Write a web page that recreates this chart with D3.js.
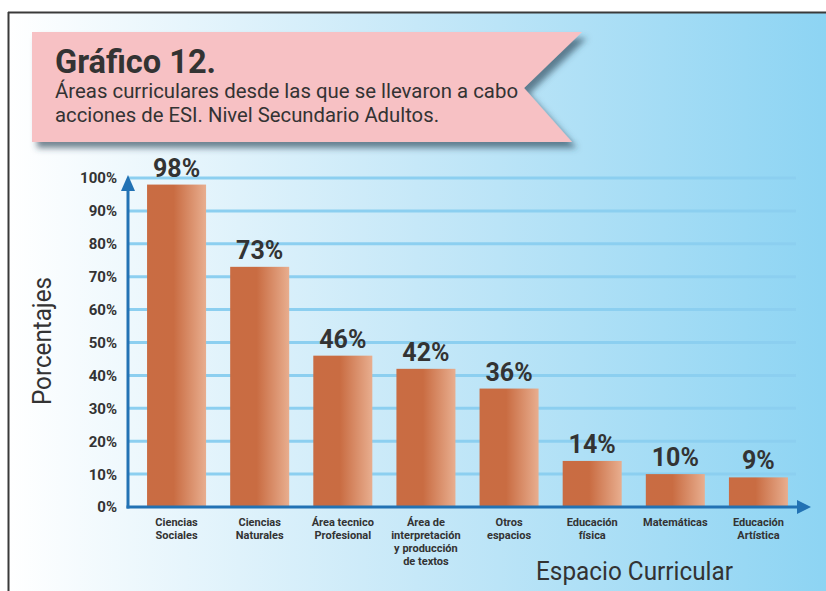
<!DOCTYPE html>
<html>
<head>
<meta charset="utf-8">
<script src="https://cdn.jsdelivr.net/npm/d3@7/dist/d3.min.js"></script>
<style>
  html, body { margin: 0; padding: 0; background: #ffffff; }
  svg { display: block; }
  text { font-family: Roboto, "Noto Sans", sans-serif; }
</style>
</head>
<body>
<script>
// ---- data ----
const categories = [
  "Ciencias\nSociales",
  "Ciencias\nNaturales",
  "Área tecnico\nProfesional",
  "Área de\ninterpretación\ny producción\nde textos",
  "Otros\nespacios",
  "Educación\nfísica",
  "Matemáticas",
  "Educación\nArtística"
];
const values = [98, 73, 46, 42, 36, 14, 10, 9];
const yTicks = [0, 10, 20, 30, 40, 50, 60, 70, 80, 90, 100];
const titleText = "Gráfico 12.";
const subtitleLines = [
  "Áreas curriculares desde las que se llevaron a cabo",
  "acciones de ESI. Nivel Secundario Adultos."
];
const yTitle = "Porcentajes";
const xTitle = "Espacio Curricular";

// ---- layout ----
const W = 826, H = 591;
const svg = d3.select("body").append("svg").attr("width", W).attr("height", H);
const defs = svg.append("defs");

const bg = defs.append("linearGradient").attr("id", "bgGrad").attr("x1", 0).attr("x2", 1).attr("y1", 0).attr("y2", 0);
bg.append("stop").attr("offset", "0").attr("stop-color", "#ffffff");
bg.append("stop").attr("offset", "0.5").attr("stop-color", "#c6e8f8");
bg.append("stop").attr("offset", "1").attr("stop-color", "#8dd4f3");

const barG = defs.append("linearGradient").attr("id", "barGrad").attr("x1", 0).attr("x2", 1).attr("y1", 0).attr("y2", 0);
barG.append("stop").attr("offset", "0").attr("stop-color", "#c96c43");
barG.append("stop").attr("offset", "0.45").attr("stop-color", "#c96c42");
barG.append("stop").attr("offset", "1").attr("stop-color", "#e8ae8f");

const shadow = defs.append("filter").attr("id", "shadow").attr("x", "-10%").attr("y", "-20%").attr("width", "130%").attr("height", "150%");
shadow.append("feDropShadow").attr("dx", 5).attr("dy", 6).attr("stdDeviation", 3)
  .attr("flood-color", "#2c4656").attr("flood-opacity", 0.65);

// background panel
svg.append("rect").attr("x", 8).attr("y", 12).attr("width", W - 8).attr("height", H - 12).attr("fill", "url(#bgGrad)");
svg.append("line").attr("x1", 8).attr("x2", W).attr("y1", 12.5).attr("y2", 12.5).attr("stroke", "#3a3a3a").attr("stroke-width", 2);
svg.append("line").attr("x1", 8.5).attr("x2", 8.5).attr("y1", 12).attr("y2", H).attr("stroke", "#3a3a3a").attr("stroke-width", 2);

// banner
svg.append("path")
  .attr("d", "M32,32 L582,32 L524,88 L572,142 L32,142 Z")
  .attr("fill", "#f7c1c4")
  .attr("filter", "url(#shadow)");
svg.append("text").attr("x", 55).attr("y", 73)
  .attr("font-size", 33).attr("font-weight", 700).attr("fill", "#333333")
  .attr("textLength", 161).attr("lengthAdjust", "spacingAndGlyphs")
  .text(titleText);
const subLens = [463, 384];
subtitleLines.forEach((s, i) => {
  svg.append("text").attr("x", 55).attr("y", 98 + i * 24)
    .attr("font-size", 20).attr("fill", "#333333")
    .attr("textLength", subLens[i]).attr("lengthAdjust", "spacingAndGlyphs")
    .text(s);
});

// scales
const x0 = 128, yBase = 507;
const x = d3.scaleBand().domain(categories).range([135, 800]).paddingInner(0.29).paddingOuter(0.145);
const y = d3.scaleLinear().domain([0, 100]).range([yBase, 178]);

// gridlines
svg.append("g").selectAll("line").data(yTicks.filter(d => d > 0)).join("line")
  .attr("x1", x0).attr("x2", 796)
  .attr("y1", d => y(d)).attr("y2", d => y(d))
  .attr("stroke", "#8ccff0").attr("stroke-width", 3);

// y tick labels
svg.append("g").selectAll("text").data(yTicks).join("text")
  .attr("x", 117).attr("y", d => y(d)).attr("dy", "0.36em")
  .attr("text-anchor", "end").attr("font-size", 15).attr("font-weight", 700).attr("fill", "#333333")
  .text(d => d + "%");

// bars
svg.append("g").selectAll("rect").data(values).join("rect")
  .attr("x", (d, i) => x(categories[i]))
  .attr("y", d => y(d))
  .attr("width", x.bandwidth())
  .attr("height", d => yBase - y(d))
  .attr("fill", "url(#barGrad)");

// value labels
svg.append("g").selectAll("text").data(values).join("text")
  .attr("x", (d, i) => x(categories[i]) + x.bandwidth() / 2)
  .attr("y", d => y(d) - 8)
  .attr("text-anchor", "middle").attr("font-size", 25).attr("font-weight", 700).attr("fill", "#333333")
  .text(d => d + "%");

// axes
const axisColor = "#2272b4";
svg.append("line").attr("x1", x0).attr("x2", x0).attr("y1", yBase + 1.5).attr("y2", 188)
  .attr("stroke", axisColor).attr("stroke-width", 3);
svg.append("path").attr("d", `M${x0},${175} L${x0 + 7},${191} L${x0 - 7},${191} Z`).attr("fill", axisColor);
svg.append("line").attr("x1", x0 - 1.5).attr("x2", 800).attr("y1", yBase).attr("y2", yBase)
  .attr("stroke", axisColor).attr("stroke-width", 3);
svg.append("path").attr("d", `M811,${yBase} L797,${yBase - 7} L797,${yBase + 7} Z`).attr("fill", axisColor);

// category labels
const catG = svg.append("g");
categories.forEach((c, i) => {
  const t = catG.append("text")
    .attr("x", x(c) + x.bandwidth() / 2).attr("y", 526)
    .attr("text-anchor", "middle").attr("font-size", 11).attr("font-weight", 700).attr("fill", "#333333");
  c.split("\n").forEach((ln, j) => {
    t.append("tspan").attr("x", x(c) + x.bandwidth() / 2).attr("dy", j === 0 ? 0 : 13).text(ln);
  });
});

// axis titles
svg.append("text")
  .attr("transform", "translate(51,341) rotate(-90)")
  .attr("text-anchor", "middle").attr("font-size", 26).attr("fill", "#333333")
  .attr("textLength", 128).attr("lengthAdjust", "spacingAndGlyphs")
  .text(yTitle);
svg.append("text").attr("x", 536).attr("y", 580)
  .attr("font-size", 26).attr("fill", "#333333")
  .attr("textLength", 197).attr("lengthAdjust", "spacingAndGlyphs")
  .text(xTitle);
</script>
</body>
</html>
